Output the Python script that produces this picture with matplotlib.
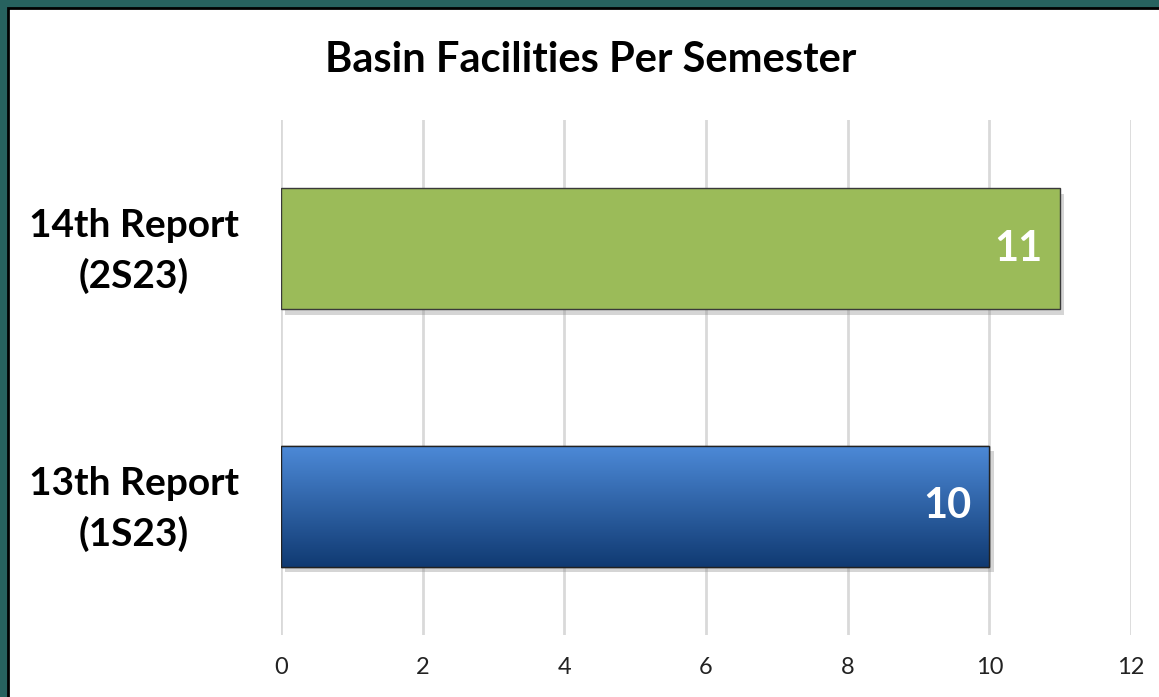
import numpy as np
import matplotlib.pyplot as plt
from matplotlib.patches import Rectangle
from matplotlib import patheffects as pe
from matplotlib.transforms import ScaledTranslation

plt.rcParams['font.family'] = ['Lato', 'DejaVu Sans']

# data
categories = ['13th Report\n(1S23)', '14th Report\n(2S23)']
values = [10, 11]
title = 'Basin Facilities Per Semester'

fig = plt.figure(figsize=(11.59, 6.97), dpi=100)
W, H = 1159, 697

# teal frame with black inner line
fig.patches.append(Rectangle((0, 0), 1, 1, transform=fig.transFigure,
                             facecolor='#27625f', edgecolor='none', zorder=-10))
fig.patches.append(Rectangle((8 / W, -0.1), 1.2, 1 - 8 / H + 0.1,
                             transform=fig.transFigure, facecolor='white',
                             edgecolor='black', linewidth=2, zorder=-9))

ax = fig.add_axes([281 / W, (H - 635) / H, (1131 - 281) / W, (635 - 120) / H])
ax.set_facecolor('none')

y = np.arange(len(categories))
bars = ax.barh(y, values, height=0.47, color=['#2a5ea8', '#9bbb59'],
               edgecolor='#3a3a3a', linewidth=1, zorder=3)

# drop shadow
for b in bars:
    b.set_path_effects([pe.SimplePatchShadow(offset=(3, -4), shadow_rgbFace='#888888', alpha=0.35),
                        pe.Normal()])

# gradient on blue bar
grad = np.linspace(0, 1, 256).reshape(-1, 1)
top = np.array([0x4d, 0x8a, 0xd8]) / 255
bot = np.array([0x10, 0x3a, 0x72]) / 255
img = top + (bot - top) * grad[:, :, None]
b = bars[0]
im = ax.imshow(img, extent=[0, values[0], b.get_y(), b.get_y() + b.get_height()],
               origin='upper', aspect='auto', zorder=3.5)
im.set_clip_path(b)
ax.barh(y[0], values[0], height=0.47, color='none', edgecolor='#222222', linewidth=1, zorder=4)

for yi, v in zip(y, values):
    ax.text(v - 0.25, yi, str(v), ha='right', va='center', color='white',
            fontsize=30, fontweight='bold', zorder=5)

ax.set_xlim(0, 12)
ax.set_ylim(-0.5, 1.5)
ax.set_xticks(range(0, 13, 2))
ax.set_yticks(y)
ax.set_yticklabels(categories, fontsize=28, fontweight='bold', ha='center', linespacing=1.5)
ax.tick_params(axis='y', length=0, pad=106)
shift = ScaledTranslation(0, 8 / 100, fig.dpi_scale_trans)
for lbl in ax.get_yticklabels():
    lbl.set_transform(lbl.get_transform() + shift)
ax.tick_params(axis='x', length=0, labelsize=17, pad=16, colors='#222222')
ax.grid(axis='x', color='#d9d9d9', linewidth=2, zorder=0)
for s in ax.spines.values():
    s.set_visible(False)

fig.text(591 / W, 1 - 60 / H, title, ha='center', va='center',
         fontsize=30, fontweight='bold', color='black')

fig.savefig('out.png', dpi=100)
